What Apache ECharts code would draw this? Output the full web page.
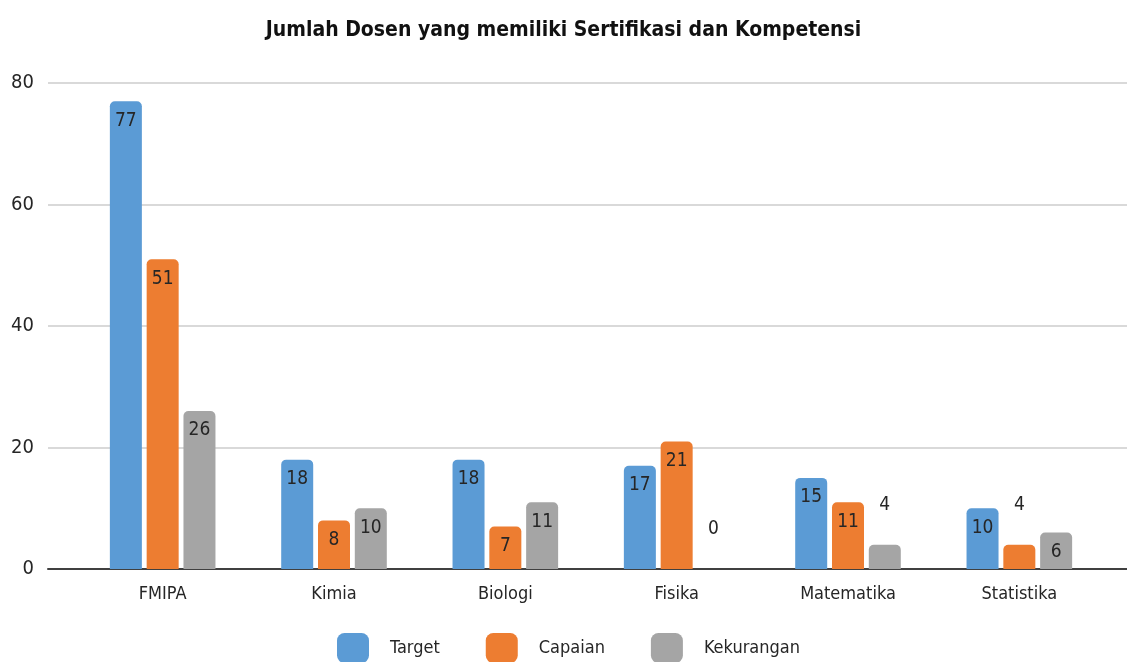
<!DOCTYPE html>
<html lang="id">
<head>
    <meta charset="UTF-8">
    <title>Jumlah Dosen</title>
    <script src="https://cdn.jsdelivr.net/npm/echarts@6/dist/echarts.min.js"></script>
</head>
<style>
    html,body{
        margin:0;
        padding:0;
        background:#fff;
    }
    #chart{
        width:1127px;
        height:662px;
    }
</style>
<body>
    <div id="chart"></div>
    <script>
        var categories=['FMIPA','Kimia','Biologi','Fisika','Matematika','Statistika'];
        var target=[77,18,18,17,15,10];
        var capaian=[51,8,7,21,11,4];
        var kekurangan=[26,10,11,0,4,6];
        var yTicks=[0,20,40,60,80];

        var font='"DejaVu Sans Condensed"';
        var labelColor='#262626';

        // small bars get their label above instead of inside
        function withLabels(arr){
            return arr.map(function(v){
                if(v<6){
                    return {value:v,label:{position:'top',distance:30}};
                }
                return v;
            });
        }

        function barSeries(name,data,color){
            return {
                name:name,
                type:'bar',
                xAxisIndex:1,
                yAxisIndex:1,
                barWidth:32,
                barGap:'15%',
                data:withLabels(data),
                itemStyle:{
                    color:color,
                    borderRadius:[5,5,0,0]
                },
                label:{
                    show:true,
                    position:'insideTop',
                    distance:10,
                    color:labelColor,
                    fontFamily:font,
                    fontSize:19
                }
            };
        }

        var chart=echarts.init(document.getElementById('chart'));
        var option={
            animation:false,
            title:{
                text:'Jumlah Dosen yang memiliki Sertifikasi dan Kompetensi',
                left:'center',
                top:15,
                textStyle:{
                    fontFamily:font,
                    fontWeight:'bold',
                    fontSize:21,
                    color:'#111'
                }
            },
            legend:{
                data:['Target','Capaian','Kekurangan'],
                left:332,
                top:628,
                icon:'roundRect',
                itemWidth:32,
                itemHeight:30,
                itemGap:46,
                textStyle:{
                    fontFamily:font,
                    fontSize:18,
                    color:labelColor,
                    padding:[0,0,0,16]
                }
            },
            grid:[
                {left:48,right:0,top:83,bottom:93},
                {left:77,right:22,top:83,bottom:93}
            ],
            xAxis:[
                {
                    gridIndex:0,
                    type:'value',
                    min:0,
                    max:1,
                    axisLine:{show:true,onZero:false,lineStyle:{color:'#404040',width:2}},
                    axisTick:{show:false},
                    axisLabel:{show:false},
                    splitLine:{show:false}
                },
                {
                    gridIndex:1,
                    type:'category',
                    data:categories,
                    axisLine:{show:false},
                    axisTick:{show:false},
                    axisLabel:{
                        margin:16,
                        fontFamily:font,
                        fontSize:18,
                        color:labelColor
                    }
                }
            ],
            yAxis:[
                {
                    gridIndex:0,
                    type:'value',
                    min:yTicks[0],
                    max:yTicks[yTicks.length-1],
                    interval:yTicks[1]-yTicks[0],
                    axisLine:{show:false},
                    axisTick:{show:false},
                    axisLabel:{
                        margin:14,
                        fontFamily:font,
                        fontSize:20,
                        color:labelColor
                    },
                    splitLine:{lineStyle:{color:'#d9d9d9',width:2}}
                },
                {
                    gridIndex:1,
                    type:'value',
                    min:yTicks[0],
                    max:yTicks[yTicks.length-1],
                    show:false
                }
            ],
            series:[
                barSeries('Target',target,'#5b9bd5'),
                barSeries('Capaian',capaian,'#ed7d31'),
                barSeries('Kekurangan',kekurangan,'#a5a5a5')
            ]
        };
        chart.setOption(option);
    </script>
</body>
</html>
